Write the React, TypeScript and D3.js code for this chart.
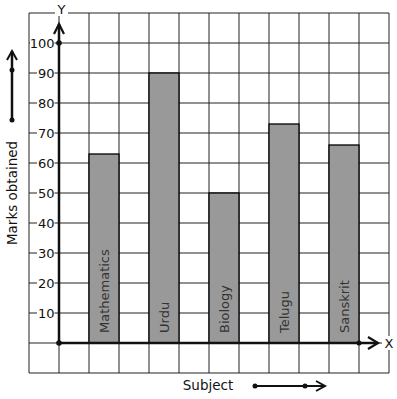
import React from "react";
import * as d3 from "d3";

const subjects = ["Mathematics", "Urdu", "Biology", "Telugu", "Sanskrit"];
const marks = [63, 90, 50, 73, 66];
const yTicks = [10, 20, 30, 40, 50, 60, 70, 80, 90, 100];
const xSlots = [1, 3, 5, 7, 9]; // grid column index (from axis) where each bar starts

export default function App() {
  const W = 397, H = 399;
  const gx0 = 29, gy0 = 13, cell = 30, nCols = 12, nRows = 12;
  const axisX = gx0 + cell; // 59
  const y = d3.scaleLinear().domain([0, 100]).range([343, 43]);
  const x = d3.scaleLinear().domain([0, 10]).range([axisX, axisX + 300]);
  const font = "DejaVu Sans, sans-serif";
  const ink = "#111";
  const vLines = d3.range(nCols + 1).map((i) => gx0 + i * cell);
  const hLines = d3.range(nRows + 1).map((i) => gy0 + i * cell);

  return (
    <svg width={W} height={H} style={{ position: "absolute", left: 0, top: 0 }}>
      <rect width={W} height={H} fill="#fff" />
      {vLines.map((v) => (
        <line key={"v" + v} x1={v} x2={v} y1={gy0} y2={gy0 + nRows * cell} stroke="#222" strokeWidth={1} />
      ))}
      {hLines.map((h) => (
        <line key={"h" + h} x1={gx0} x2={gx0 + nCols * cell} y1={h} y2={h} stroke="#222" strokeWidth={1} />
      ))}
      {subjects.map((s, i) => (
        <g key={s}>
          <rect
            x={x(xSlots[i])}
            y={y(marks[i])}
            width={x(xSlots[i] + 1) - x(xSlots[i])}
            height={y(0) - y(marks[i])}
            fill="#999"
            stroke="#000"
            strokeWidth={1.3}
          />
          <text
            transform={`translate(${(x(xSlots[i]) + x(xSlots[i] + 1)) / 2 + 4.5},${y(0) - 10}) rotate(-90)`}
            fontFamily={font}
            fontSize={13}
            fill="#333"
          >
            {s}
          </text>
        </g>
      ))}
      {yTicks.map((t) => (
        <g key={t}>
          <rect x={t === 100 ? 30 : 37} y={y(t) - 7} width={t === 100 ? 24.5 : 17.5} height={14} fill="#fff" />
          <text x={54.5} y={y(t) + 4.5} textAnchor="end" fontFamily={font} fontSize={13} fill="#111">
            {t}
          </text>
        </g>
      ))}
      {/* Y axis */}
      <line x1={axisX} x2={axisX} y1={y(0)} y2={24} stroke={ink} strokeWidth={2.5} />
      <polyline points={`${axisX - 5},34 ${axisX},24 ${axisX + 5},34`} fill="none" stroke={ink} strokeWidth={2.2} />
      <circle cx={axisX} cy={y(100)} r={2.8} fill={ink} />
      <rect x={55} y={2} width={13} height={14} fill="#fff" />
      <text x={61.5} y={14} textAnchor="middle" fontFamily={font} fontSize={13} fill="#111">Y</text>
      {/* X axis */}
      <line x1={axisX} x2={378} y1={y(0)} y2={y(0)} stroke={ink} strokeWidth={2.5} />
      <polyline points={`368,337 378,343 368,349`} fill="none" stroke={ink} strokeWidth={2.2} />
      <circle cx={axisX} cy={y(0)} r={2.8} fill={ink} />
      <circle cx={x(10)} cy={y(0)} r={2.5} fill={ink} />
      <rect x={382} y={336} width={13} height={14} fill="#fff" />
      <text x={389} y={348} textAnchor="middle" fontFamily={font} fontSize={13} fill="#111">X</text>
      {/* left arrow */}
      <line x1={12} x2={12} y1={120} y2={51} stroke={ink} strokeWidth={2.5} />
      <polyline points="7,60 12,51 17,60" fill="none" stroke={ink} strokeWidth={2} />
      <circle cx={12} cy={70} r={2.5} fill={ink} />
      <circle cx={12} cy={120} r={2.5} fill={ink} />
      <text
        transform="translate(17,193) rotate(-90)"
        textAnchor="middle"
        fontFamily={font}
        fontSize={13.5}
        fill="#111"
      >
        Marks obtained
      </text>
      {/* Subject */}
      <text x={208} y={390} textAnchor="middle" fontFamily={font} fontSize={13.5} fill="#111">Subject</text>
      <line x1={255} x2={324} y1={386} y2={386} stroke={ink} strokeWidth={2} />
      <polyline points="316,381 325,386 316,391" fill="none" stroke={ink} strokeWidth={2} />
      <circle cx={255} cy={386} r={2.5} fill={ink} />
      <circle cx={305} cy={386} r={2.5} fill={ink} />
    </svg>
  );
}
